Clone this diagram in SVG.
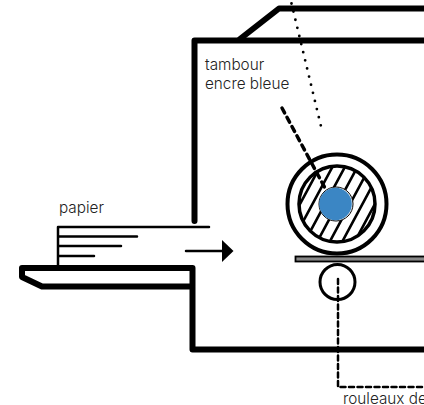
<svg xmlns="http://www.w3.org/2000/svg" width="424" height="405" viewBox="0 0 424 405">
<style>
.t{font-family:Inter,"Liberation Sans",sans-serif;font-weight:300;font-size:15.300px;fill:#222}
.k{fill:none;stroke:#000;stroke-linejoin:round;stroke-linecap:round}
</style>
<defs><clipPath id="c"><circle cx="337" cy="204" r="37"/></clipPath></defs>
<rect width="424" height="405" fill="#fff"/>
<g id="chassis">
<path class="k" stroke-width="6" d="M194.500 221V40.500H424"/>
<path class="k" stroke-width="6" stroke-linecap="butt" d="M240 39L279 8.500H424"/>
<path class="k" stroke-width="6" d="M192.500 268H22V277L42 286.500H192.500M192.500 268V349.500H424"/>
</g>
<g id="papier">
<path class="k" stroke-width="2.500" stroke-linecap="butt" d="M58 266V227H209M58 236.500H137M58 246H121M58 256H94"/>
<text class="t" x="59" y="213">papier</text>
</g>
<g id="fleche">
<path class="k" stroke-width="2.500" stroke-linecap="butt" d="M186 251H223"/>
<path d="M222 240L233.500 251L222 262Z" fill="#000"/>
</g>
<g id="tambour">
<circle cx="337" cy="204" r="49.500" fill="#fff" stroke="#000" stroke-width="4"/>
<g clip-path="url(#c)"><path stroke="#000" stroke-width="2.600" d="M278.500 244L321.500 164M291 244L334 164M303.500 244L346.500 164M316 244L359 164M328.500 244L371.500 164M341 244L384 164M353.500 244L396.500 164M266 244L309 164M253.500 244L296.500 164"/></g>
<circle cx="337" cy="204" r="38" fill="none" stroke="#000" stroke-width="3.500"/>
<circle cx="336" cy="204" r="17" fill="#fff" stroke="#000" stroke-width="1"/>
<circle cx="335.500" cy="204" r="16.300" fill="#3b86c4"/>
<text class="t" x="205" y="70">tambour</text>
<text class="t" x="205" y="89">encre bleue</text>
</g>
<g id="plaque"><rect x="295.500" y="256.500" width="130" height="5" fill="#888" stroke="#000" stroke-width="1.800"/></g>
<g id="rouleau">
<circle cx="337.500" cy="282" r="17.500" fill="#fff" stroke="#000" stroke-width="3"/>
<text class="t" x="343" y="404">rouleaux de</text>
</g>
<g id="connecteurs">
<path class="k" stroke-width="3.500" stroke-linecap="butt" stroke-dasharray="5.500 5" d="M282 108L325 188"/>
<path class="k" stroke-width="2.500" stroke-linecap="butt" stroke-dasharray="5 3.500" d="M338 279V387H424"/>
<path class="k" stroke-width="2.800" stroke-dasharray="0 8.350" d="M291.500 3.500L322.500 132.500"/>
</g>
</svg>
